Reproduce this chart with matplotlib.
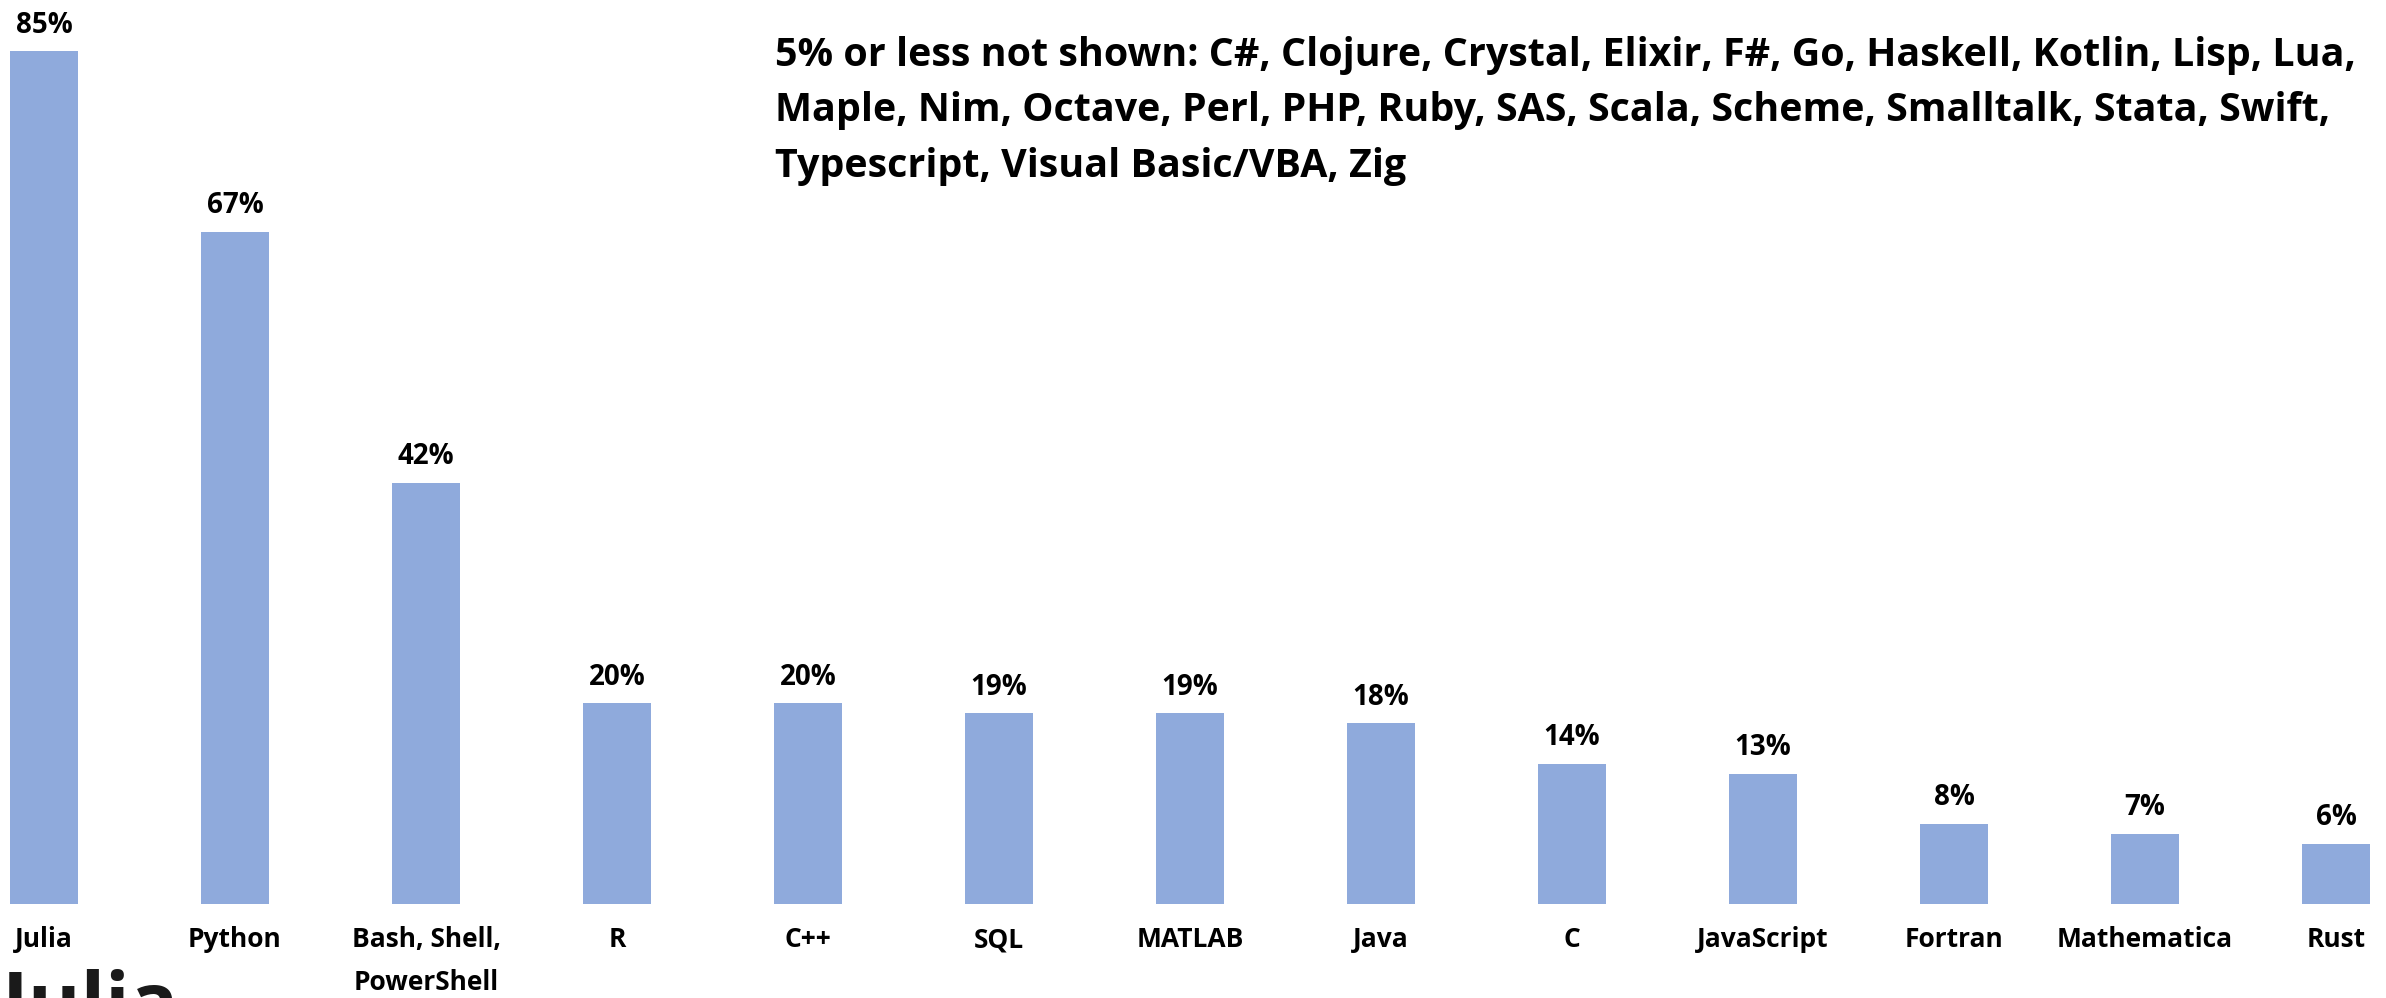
import matplotlib
matplotlib.use("Agg")
import matplotlib.pyplot as plt

# Languages used alongside Julia (share of respondents, %)
languages = [
    "Julia", "Python", "Bash, Shell,\nPowerShell", "R", "C++", "SQL", "MATLAB",
    "Java", "C", "JavaScript", "Fortran", "Mathematica", "Rust",
]
shares = [85, 67, 42, 20, 20, 19, 19, 18, 14, 13, 8, 7, 6]

not_shown = (
    "5% or less not shown: C#, Clojure, Crystal, Elixir, F#, Go, Haskell, Kotlin, Lisp, Lua,\n"
    "Maple, Nim, Octave, Perl, PHP, Ruby, SAS, Scala, Scheme, Smalltalk, Stata, Swift,\n"
    "Typescript, Visual Basic/VBA, Zig"
)

BAR_COLOR = "#8FAADC"
FONT = ["Open Sans", "DejaVu Sans"]

W, H, DPI = 2386, 998, 100
fig = plt.figure(figsize=(W / DPI, H / DPI), dpi=DPI)

# axes fill the width; baseline sits at 904 px from the top
base_px = 904
ax = fig.add_axes([0, (H - base_px) / H, 1, base_px / H])

x = list(range(len(languages)))
ax.bar(x, shares, width=0.356, color=BAR_COLOR)

# bar centres at 44 px + 191 px per step
ax.set_xlim(-44 / 191, (W - 44) / 191)
ax.set_ylim(0, base_px / 10.03)

for xi, v in zip(x, shares):
    ax.annotate(f"{v}%", (xi, v), xytext=(0, 13.5), textcoords="offset points",
                ha="center", va="baseline", fontsize=20, fontweight="bold",
                family=FONT, color="black")

ax.set_xticks(x)
ax.set_xticklabels(languages, fontsize=19, fontweight="bold", family=FONT,
                   linespacing=1.75, va="top")
ax.tick_params(axis="x", length=0, pad=16)
ax.set_yticks([])
for s in ax.spines.values():
    s.set_visible(False)

# baseline of the last line at 177 px from the top
fig.text(775 / W, 1 - 177 / H, not_shown, ha="left", va="baseline",
         fontsize=28.4, fontweight="bold", family=FONT, color="black",
         linespacing=1.55)

# Julia logo word, cut off by the bottom edge
fig.text(2 / W, 1 - 969 / H, "Julia", ha="left", va="top", fontsize=58,
         fontweight="bold", family=FONT, color="#1a1a1a")

fig.savefig("out.png", dpi=DPI)
